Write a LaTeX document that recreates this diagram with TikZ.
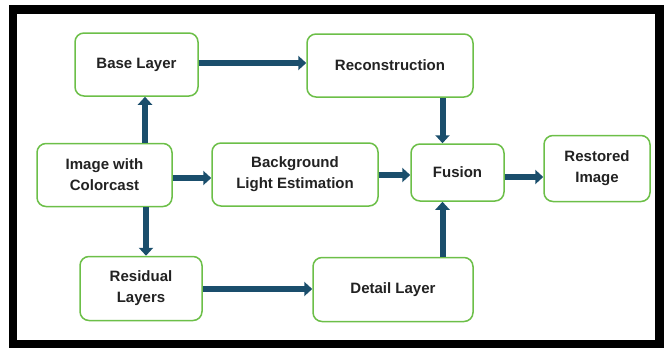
\documentclass[tikz,border=0pt]{standalone}
\usepackage{fontspec}
\setmainfont{Liberation Sans}
\usetikzlibrary{arrows.meta,calc}
\definecolor{boxgreen}{HTML}{6CBF48}
\definecolor{arrowblue}{HTML}{1A4E6C}
\definecolor{txt}{HTML}{222222}
\tikzset{
  blk/.style={draw=boxgreen, line width=1.5pt, rounded corners=9pt, fill=white,
    text=txt, font=\fontsize{15}{21}\selectfont\bfseries, align=center,
    inner sep=0pt, anchor=center},
  flow/.style={draw=arrowblue, line width=6pt,
    -{Triangle[width=14pt,length=8pt]}},
}
\begin{document}
\begin{tikzpicture}[x=1pt,y=-1pt]
\useasboundingbox (0,0) rectangle (664,348);
\draw[line width=8.5pt, black] (13,9.5) rectangle (659.5,344);
\node[blk, minimum width=123pt, minimum height=63pt] (base) at (136.5,64.5) {Base Layer};
\node[blk, minimum width=166pt, minimum height=63pt] (recon) at (390,65.5) {Reconstruction};
\node[blk, minimum width=135pt, minimum height=63pt] (img) at (104.5,175) {Image with\\Colorcast};
\node[blk, minimum width=166pt, minimum height=63pt] (bg) at (295,174.5) {Background\\Light Estimation};
\node[blk, minimum width=93pt, minimum height=57pt] (fus) at (457.5,172.5) {Fusion};
\node[blk, minimum width=106pt, minimum height=66pt] (rest) at (597,168.5) {Restored\\Image};
\node[blk, minimum width=122pt, minimum height=64pt] (res) at (141,288.5) {Residual\\Layers};
\node[blk, minimum width=160pt, minimum height=64pt] (det) at (393,289.5) {Detail Layer};

\draw[flow] ([yshift=1.5pt]base.east) -- ([yshift=1.5pt]base.east -| recon.west);
\draw[flow] ([xshift=8.5pt]base.south |- img.north) -- ([xshift=8.5pt]base.south);
\draw[flow] ([xshift=5pt]res.north |- img.south) -- ([xshift=5pt]res.north);
\draw[flow] ([yshift=-3pt]img.east) -- ([yshift=-3pt]img.east -| bg.west);
\draw[flow] ([yshift=-0.5pt]bg.east -| bg.east) -- ([yshift=-0.5pt]bg.east -| fus.west);
\draw[flow] ([xshift=-15pt]fus.north |- recon.south) -- ([xshift=-15pt]fus.north);
\draw[flow] ([xshift=-15pt]fus.south |- det.north) -- ([xshift=-15pt]fus.south);
\draw[flow] ([yshift=-4.5pt]fus.east) -- ([yshift=-4.5pt]fus.east -| rest.west);
\draw[flow] ([yshift=-0.5pt]res.east) -- ([yshift=-0.5pt]res.east -| det.west);
\end{tikzpicture}
\end{document}
